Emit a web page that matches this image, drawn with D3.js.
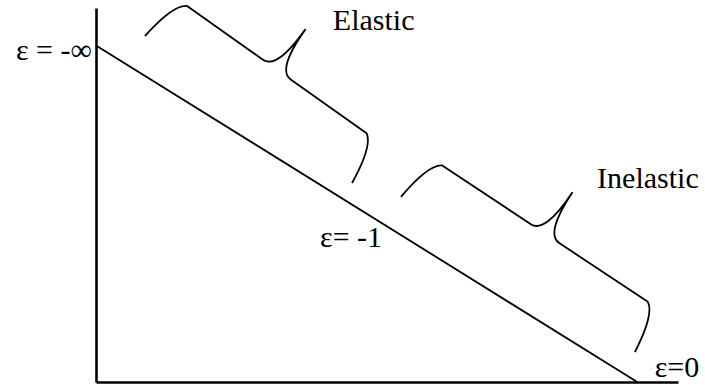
<!DOCTYPE html>
<html>
<head>
<meta charset="utf-8">
<script src="https://cdn.jsdelivr.net/npm/d3@7"></script>
<style>
body { margin: 0; background: #fff; }
</style>
</head>
<body>
<svg id="chart" width="705" height="385"></svg>
<script>
var width = 705;
var height = 385;

// demand curve (quantity, price), arbitrary units
var demandQ = [0, 93];
var demandP = [90, 0];

// curly braces marking the two parts of the curve
var braceNames = ["Elastic", "Inelastic"];
var braceStart = [[8.4, 92.5], [52.4, 49.5]];
var braceEnd = [[44, 53.2], [92.6, 8]];

// text labels and where they sit (data units)
var labelText = ["ε = -∞", "ε= -1", "ε=0", "Elastic", "Inelastic"];
var labelQ = [-0.7, 38.5, 96, 40.7, 86.1];
var labelP = [86.1, 36.2, 1.3, 94.1, 51.9];
var labelAnchor = ["end", "start", "start", "start", "start"];

var x = d3.scaleLinear().domain([0, 100]).range([96, 678]);
var y = d3.scaleLinear().domain([0, 100]).range([382, 8]);

var svg = d3.select("#chart");

// axes without ticks, just the lines
svg.append("g")
	.attr("transform", "translate(0," + y(0) + ")")
	.call(d3.axisBottom(x).ticks(0).tickSizeOuter(0))
	.select(".domain")
	.attr("stroke", "#000")
	.attr("stroke-width", 2.6);

svg.append("g")
	.attr("transform", "translate(" + x(0) + ",0)")
	.call(d3.axisLeft(y).ticks(0).tickSizeOuter(0))
	.select(".domain")
	.attr("stroke", "#000")
	.attr("stroke-width", 2.6);

var demand = demandQ.map(function (q, i) { return [q, demandP[i]]; });
var line = d3.line()
	.x(function (d) { return x(d[0]); })
	.y(function (d) { return y(d[1]); });

svg.append("path")
	.datum(demand)
	.attr("d", line)
	.attr("fill", "none")
	.attr("stroke", "#000")
	.attr("stroke-width", 1.8);

// brace between two screen points, bulging to the left of the chord direction
function bracePath(p1, p2) {
	var h = 49, c = 17, r = 17;
	var dx = p2[0] - p1[0], dy = p2[1] - p1[1];
	var L = Math.sqrt(dx * dx + dy * dy);
	var ux = dx / L, uy = dy / L;
	var nx = uy, ny = -ux;
	var m = L / 2;
	function pt(s, t) { return [p1[0] + ux * s + nx * t, p1[1] + uy * s + ny * t]; }
	var p = d3.path();
	var a;
	a = pt(0, 0); p.moveTo(a[0], a[1]);
	var c1 = pt(3, 26), c2 = pt(8, 44); a = pt(r, h);
	p.bezierCurveTo(c1[0], c1[1], c2[0], c2[1], a[0], a[1]);
	a = pt(m - c, h); p.lineTo(a[0], a[1]);
	c1 = pt(m, h); a = pt(m, 2 * h);
	p.quadraticCurveTo(c1[0], c1[1], a[0], a[1]);
	c1 = pt(m, h); a = pt(m + c, h);
	p.quadraticCurveTo(c1[0], c1[1], a[0], a[1]);
	a = pt(L - r, h); p.lineTo(a[0], a[1]);
	c1 = pt(L - 8, 44); c2 = pt(L - 3, 26); a = pt(L, 0);
	p.bezierCurveTo(c1[0], c1[1], c2[0], c2[1], a[0], a[1]);
	return p.toString();
}

svg.append("g").selectAll("path")
	.data(braceNames)
	.enter()
	.append("path")
	.attr("d", function (d, i) {
		return bracePath([x(braceStart[i][0]), y(braceStart[i][1])],
			[x(braceEnd[i][0]), y(braceEnd[i][1])]);
	})
	.attr("fill", "none")
	.attr("stroke", "#000")
	.attr("stroke-width", 1.8)
	.attr("stroke-linejoin", "round");

svg.append("g").selectAll("text")
	.data(labelText)
	.enter()
	.append("text")
	.attr("x", function (d, i) { return x(labelQ[i]); })
	.attr("y", function (d, i) { return y(labelP[i]); })
	.attr("text-anchor", function (d, i) { return labelAnchor[i]; })
	.attr("font-family", "'Liberation Serif', 'DejaVu Serif', serif")
	.attr("font-size", 30)
	.attr("fill", "#000")
	.text(function (d) { return d; });
</script>
</body>
</html>
